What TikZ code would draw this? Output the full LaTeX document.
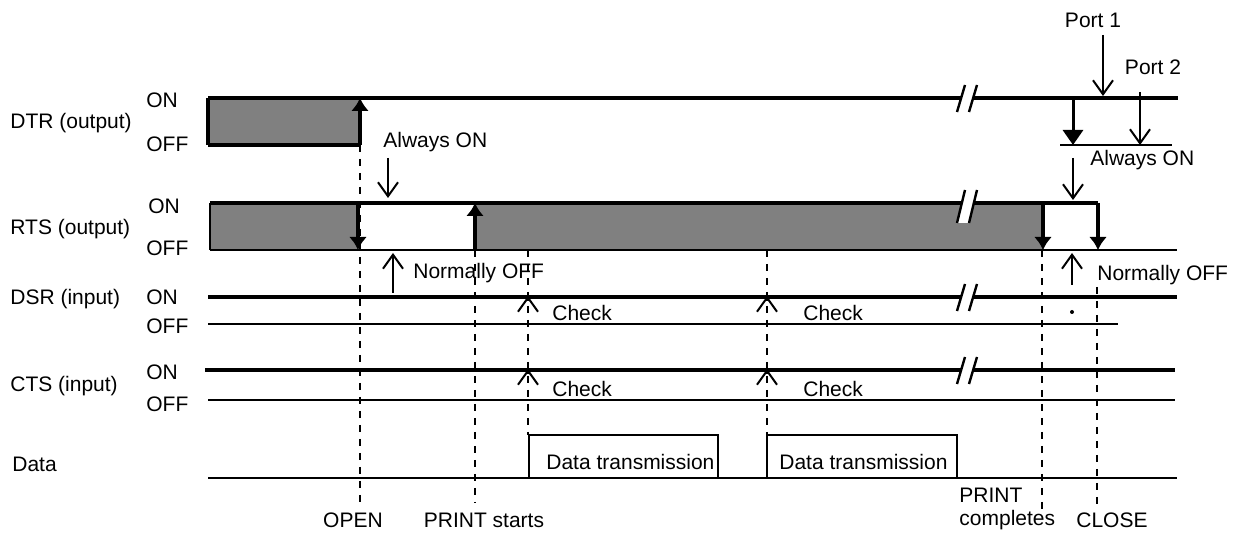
\documentclass[tikz,border=0pt]{standalone}
\usepackage{fontspec}
\setmainfont{Liberation Sans}
\usetikzlibrary{arrows.meta,positioning}
\tikzset{
  sigline/.style={line width=2.2pt},
  lvlline/.style={line width=1pt},
  lowfill/.style={fill=black!50},
  guide/.style={line width=1pt, dash pattern=on 3.5pt off 3.5pt},
  flank/.style={-{Latex[length=6.5pt,width=9pt]}, line width=2pt},
  pointer/.style={-{Straight Barb[length=7pt,width=10pt]}, line width=1pt},
  txt/.style={anchor=west, inner sep=0pt},
  ctxt/.style={inner sep=0pt}
}
\newcommand{\breakmark}[3]{%
  \fill[white] (#1-2,#2) -- (#1+10,#2) -- (#1+2,#3) -- (#1-10,#3) -- cycle;
  \draw[line width=1.2pt] (#1-2,#2) -- (#1-10,#3) (#1+10,#2) -- (#1+2,#3);}

\begin{document}
\begin{tikzpicture}[x=0.5pt, y=-0.5pt, font=\fontsize{10.5}{11.5}\selectfont]
  \useasboundingbox (0,0) rectangle (1233,533);

  % DTR
  \begin{scope}[shift={(0,98)}]
    \node[txt] (dtr) at (10,25) {DTR (output)};
    \node[txt] (dtron) at (146,2) {ON};
    \node[txt] (dtroff) at (146,46) {OFF};
    \fill[lowfill] (208,0) rectangle (360,47);
    \draw[line width=1.6pt] (208,47) -- (208,0);
    \draw[sigline] (208,0) -- (1178,0);
    \draw[sigline] (208,47) -- (360,47);
    \breakmark{967}{-13}{14}
    \draw[flank] (360,47) -- (360,0);
  \end{scope}

  % RTS
  \begin{scope}[shift={(0,203)}]
    \node[txt] (rts) at (10,26) {RTS (output)};
    \node[txt] (rtson) at (148,3) {ON};
    \node[txt] (rtsoff) at (146,45) {OFF};
    \fill[lowfill] (210,0) rectangle (358,47);
    \fill[lowfill] (475,0) rectangle (1043,47);
    \draw[lvlline] (210,47) -- (1177,47);
    \draw[line width=1.3pt] (210,47) -- (210,0);
    \draw[sigline] (210,0) -- (1098,0);
    \breakmark{967}{-13}{20}
    \draw[flank] (358,0) -- (358,47);
    \draw[flank] (475,47) -- (475,0);
    \draw[flank] (1043,0) -- (1043,47);
    \draw[flank] (1098,0) -- (1098,47);
  \end{scope}

  % DSR
  \begin{scope}[shift={(0,297)}]
    \node[txt] (dsr) at (10,2) {DSR (input)};
    \node[txt] (dsron) at (146,0) {ON};
    \node[txt] (dsroff) at (146,29) {OFF};
    \draw[sigline] (208,0) -- (1177,0);
    \draw[lvlline] (208,27) -- (1118,27);
    \breakmark{967}{-13}{14}
  \end{scope}

  % CTS
  \begin{scope}[shift={(0,370)}]
    \node[txt] (cts) at (10,16) {CTS (input)};
    \node[txt] (ctson) at (146,2) {ON};
    \node[txt] (ctsoff) at (146,34) {OFF};
    \draw[sigline] (205,0) -- (1175,0);
    \draw[lvlline] (208,30) -- (1175,30);
    \breakmark{967}{-13}{14}
  \end{scope}

  % Data
  \begin{scope}[shift={(0,478)}]
    \node[txt] (data) at (12,-14) {Data};
    \draw[lvlline] (208,0) -- (1177,0);
    \draw[lvlline] (529,0) |- (718,-43) -- (718,0);
    \draw[lvlline] (767,0) |- (957,-43) -- (957,0);
    \node[txt] (dtx1) at (546,-16) {Data transmission};
    \node[txt] (dtx2) at (779,-16) {Data transmission};
  \end{scope}

  % timing guides
  \draw[guide] (360,145) -- (360,503);
  \draw[guide] (475,250) -- (475,503);
  \draw[guide] (528,250) -- (528,435);
  \draw[guide] (767,250) -- (767,435);
  \draw[guide] (1042,250) -- (1042,510);
  \draw[guide] (1097,287) -- (1097,508);

  % check points
  \draw[pointer] (528,301) -- (528,296);
  \draw[pointer] (767,301) -- (767,296);
  \draw[pointer] (528,374) -- (528,369);
  \draw[pointer] (767,374) -- (767,369);
  \node[txt] (chk1) at (552,313) {Check};
  \node[txt] (chk2) at (803,313) {Check};
  \node[txt] (chk3) at (552,389) {Check};
  \node[txt] (chk4) at (803,389) {Check};

  % ports and notes
  \node[ctxt] (port1) at (1093,20) {Port 1};
  \node[ctxt] (port2) at (1153,67) {Port 2};
  \draw[pointer] (1103,35) -- (1103,96);
  \draw[pointer] (1140,92) -- (1140,145);
  \draw[line width=1.5pt, -{Triangle[length=7.5pt,width=10pt]}] (1073,98) -- (1073,145);
  \draw[lvlline] (1060,145) -- (1172,145);
  \node[txt] (aon2) at (1090,160) {Always ON};
  \draw[pointer] (1073,158) -- (1073,200);
  \node[txt] (aon1) at (383,142) {Always ON};
  \draw[pointer] (388,158) -- (388,198);
  \node[txt] (noff1) at (413,273) {Normally OFF};
  \draw[pointer] (393,293) -- (393,253);
  \node[txt] (noff2) at (1097,275) {Normally OFF};
  \draw[pointer] (1072,285) -- (1072,253);
  \fill (1072,312) circle[radius=1pt];

  % events
  \node[ctxt] (open) at (353,520) {OPEN};
  \node[ctxt] (prst) at (484,520) {PRINT starts};
  \node[txt, align=left] (prcp) at (959,509) {PRINT\\completes};
  \node[ctxt] (close) at (1112,520) {CLOSE};
\end{tikzpicture}
\end{document}
